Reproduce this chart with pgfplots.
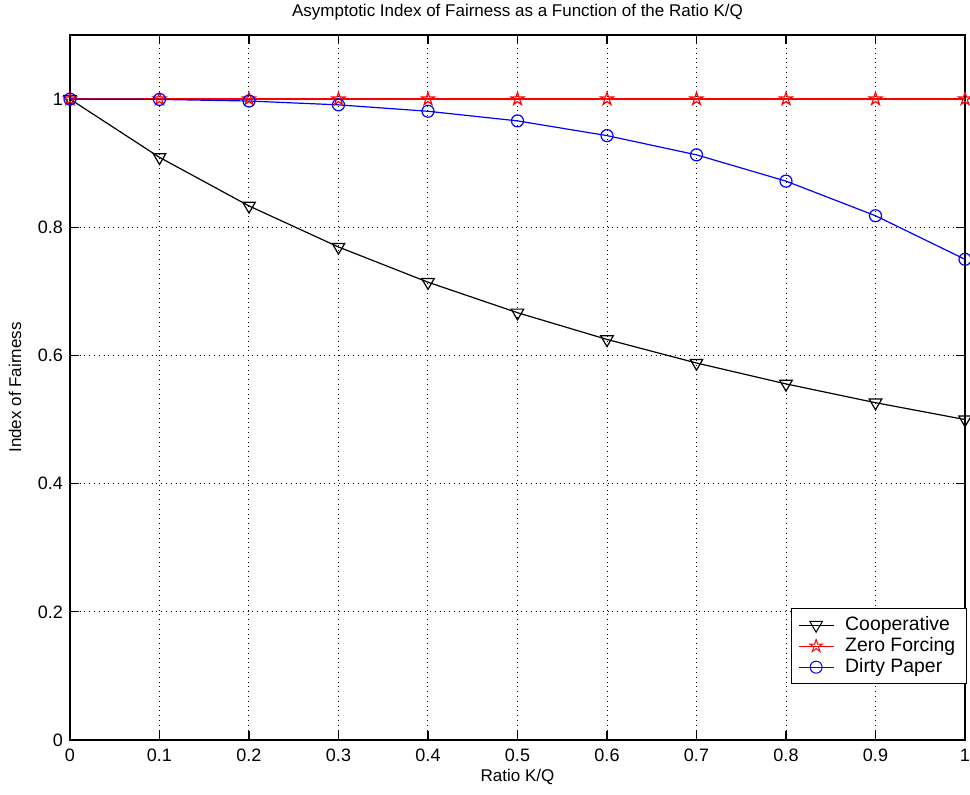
\documentclass[border=0pt]{standalone}
\usepackage{pgfplots}
\pgfplotsset{compat=1.18}
\usepackage{fontspec}
\setmainfont{Liberation Sans}
\pgfdeclareplotmark{pentagram}{%
  \pgfpathmoveto{\pgfpointpolar{90}{\pgfplotmarksize}}%
  \pgfpathlineto{\pgfpointpolar{126}{0.382\pgfplotmarksize}}%
  \pgfpathlineto{\pgfpointpolar{162}{\pgfplotmarksize}}%
  \pgfpathlineto{\pgfpointpolar{198}{0.382\pgfplotmarksize}}%
  \pgfpathlineto{\pgfpointpolar{234}{\pgfplotmarksize}}%
  \pgfpathlineto{\pgfpointpolar{270}{0.382\pgfplotmarksize}}%
  \pgfpathlineto{\pgfpointpolar{306}{\pgfplotmarksize}}%
  \pgfpathlineto{\pgfpointpolar{342}{0.382\pgfplotmarksize}}%
  \pgfpathlineto{\pgfpointpolar{18}{\pgfplotmarksize}}%
  \pgfpathlineto{\pgfpointpolar{54}{0.382\pgfplotmarksize}}%
  \pgfpathclose\pgfusepathqstroke}
\begin{document}
\begin{tikzpicture}
\useasboundingbox (-35pt,-27pt) rectangle (450pt,370pt);
\begin{axis}[
  at={(0,0)}, anchor=south west,
  width=447.5pt, height=352.5pt, scale only axis,
  xmin=0, xmax=1, ymin=0, ymax=1.1,
  xtick={0,0.1,0.2,0.3,0.4,0.5,0.6,0.7,0.8,0.9,1},
  xticklabels={0,0.1,0.2,0.3,0.4,0.5,0.6,0.7,0.8,0.9,1},
  ytick={0,0.2,0.4,0.6,0.8,1},
  yticklabels={0,0.2,0.4,0.6,0.8,1},
  tick align=inside, major tick length=4.5pt,
  grid=major, major grid style={dotted, black, line width=0.5pt},
  axis line style={line width=0.6pt},
  every tick/.style={black, line width=0.6pt},
  tick label style={font=\fontsize{9}{10}\selectfont},
  xticklabel style={yshift=-1pt},
  label style={font=\fontsize{8.5}{10}\selectfont},
  title style={font=\fontsize{8.5}{10}\selectfont, at={(axis description cs:0.5,1.0156)}, anchor=center},
  title={Asymptotic Index of Fairness as a Function of the Ratio K/Q},
  xlabel={Ratio K/Q},
  ylabel={Index of Fairness},
  xlabel style={at={(axis description cs:0.5,-0.052)}, anchor=center},
  ylabel style={at={(axis description cs:-0.0615,0.5)}, anchor=center},
  clip=false,
  legend style={at={(axis description cs:1.002,0.079)}, anchor=south east,
    font=\fontsize{9.7}{11}\selectfont, draw=black, line width=0.6pt, fill=white,
    row sep=-2pt, inner sep=2pt, inner xsep=3.5pt},
  legend cell align=left,
  legend image code/.code={\draw[mark repeat=2,mark phase=2,line width=0.5pt] plot coordinates {(0pt,0pt) (8.75pt,0pt) (17.5pt,0pt)}; \path (21pt,0pt);},
]
\addplot[black, line width=0.6pt, mark=triangle, mark size=3.6pt, mark options={rotate=180, solid, fill=none}]
 coordinates {(0,1) (0.1,0.9091) (0.2,0.8333) (0.3,0.7692) (0.4,0.7143) (0.5,0.6667) (0.6,0.6250) (0.7,0.5882) (0.8,0.5556) (0.9,0.5263) (1,0.5)};
\addlegendentry{Cooperative}
\addplot[red, line width=0.6pt, mark=pentagram, mark size=3.3pt, mark options={solid}]
 coordinates {(0,1) (0.1,1) (0.2,1) (0.3,1) (0.4,1) (0.5,1) (0.6,1) (0.7,1) (0.8,1) (0.9,1) (1,1)};
\addlegendentry{Zero Forcing}
\addplot[blue, line width=0.6pt, mark=o, mark size=3pt, mark options={solid}]
 coordinates {(0,1) (0.1,0.9995) (0.2,0.997) (0.3,0.991) (0.4,0.981) (0.5,0.966) (0.6,0.943) (0.7,0.913) (0.8,0.872) (0.9,0.818) (1,0.75)};
\addlegendentry{Dirty Paper}
\end{axis}
\end{tikzpicture}
\end{document}
